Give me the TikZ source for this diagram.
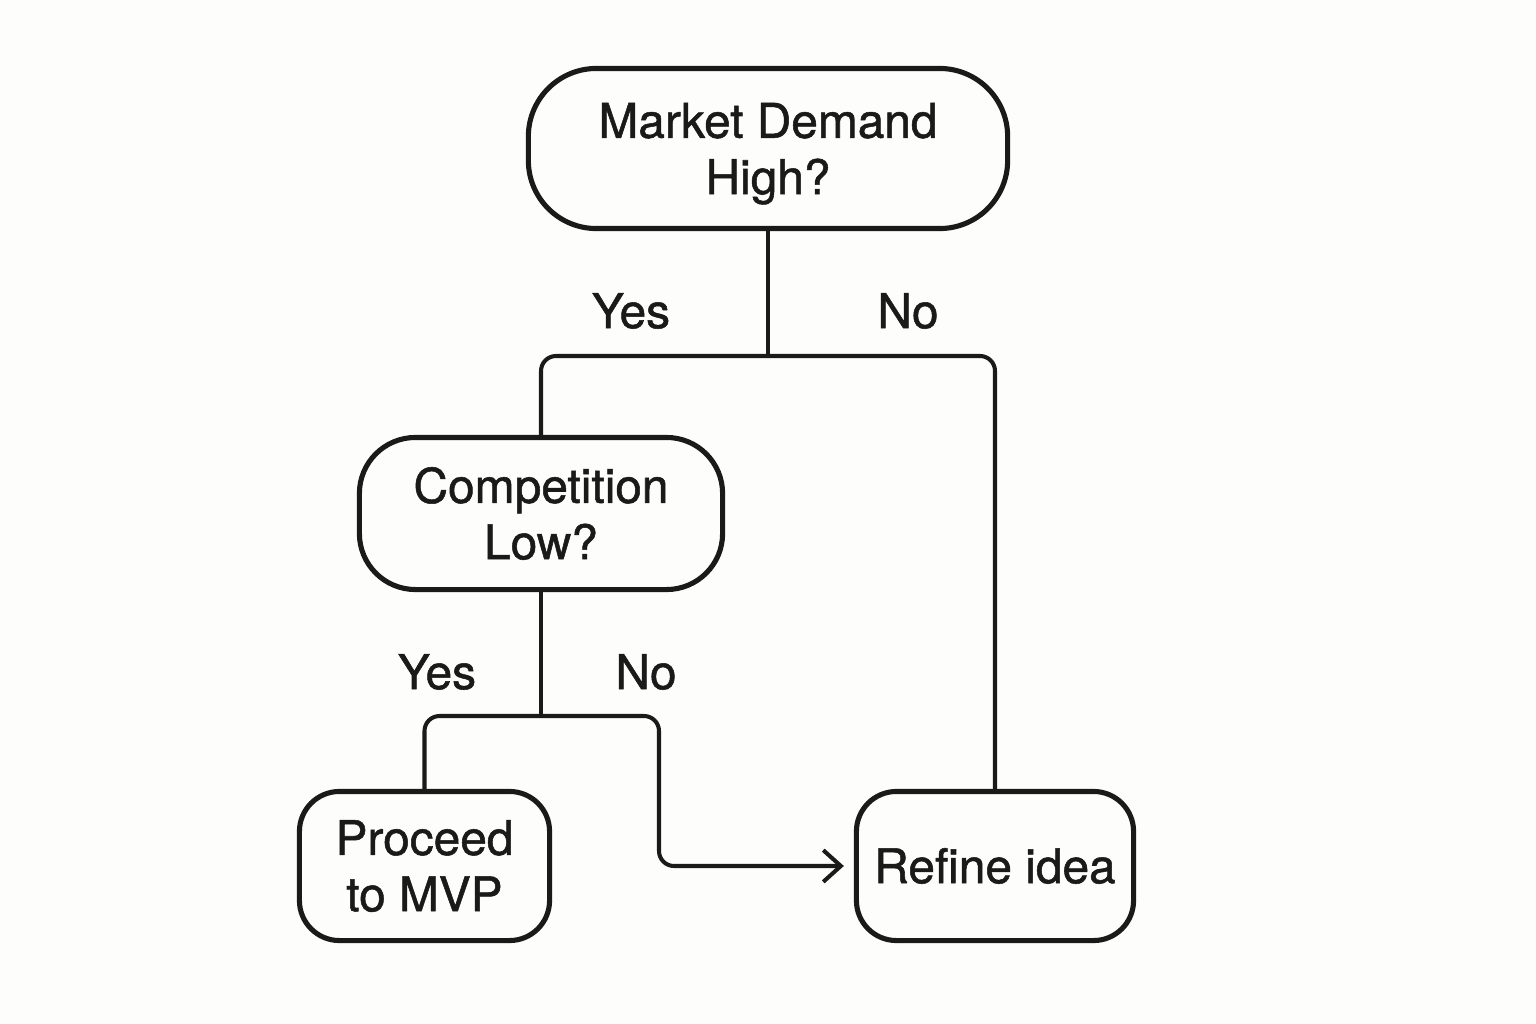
\documentclass[tikz,border=0pt]{standalone}
\usepackage{fontspec}
\setmainfont{TeX Gyre Heros}
\newfontfamily\boxfont{TeX Gyre Heros}[FakeBold=1.1]
\usetikzlibrary{arrows.meta}
\definecolor{paper}{HTML}{FDFDFB}
\definecolor{ink}{HTML}{1A1A1A}
\tikzstyle{decision}=[draw=ink,line width=1.45pt,align=center,inner sep=0pt,
  font=\boxfont\fontsize{13.6}{16}\selectfont,text=ink]
\tikzstyle{link}=[draw=ink,line width=1.15pt,rounded corners=0.15cm]
\tikzstyle{answer}=[font=\boxfont\fontsize{13.6}{16}\selectfont,text=ink,inner sep=0pt]

\begin{document}
\begin{tikzpicture}[x=0.01cm,y=-0.01cm]
      \fill[paper] (0,0) rectangle (1536,1024);
      \useasboundingbox (0,0) rectangle (1536,1024);

      \node[decision,rounded corners=0.68cm,minimum width=4.79cm,minimum height=1.6cm,text depth=0pt] (demand) at (768,148.5) {Market Demand\\High?};
      \node[decision,rounded corners=0.56cm,minimum width=3.63cm,minimum height=1.52cm] (compet) at (541,513.5) {Competition\\Low?};
      \node[decision,rounded corners=0.4cm,minimum width=2.5cm,minimum height=1.49cm] (mvp) at (424.5,866) {Proceed\\to MVP};
      \node[decision,rounded corners=0.4cm,minimum width=2.77cm,minimum height=1.49cm] (refine) at (995,866) {Refine idea};

      \coordinate (split1) at (768,356);
      \coordinate (split2) at (541,716);
      \coordinate (bend) at (659,716);

      \draw[link] (demand) -- (split1);
      \draw[link] (split1) -| (compet);
      \draw[link] (split1) -| (refine);
      \draw[link] (compet) -- (split2);
      \draw[link] (split2) -| (mvp);
      \draw[link,-{Straight Barb[length=5pt,width=9pt]},shorten >=0.1cm] (split2) -- (bend) |- (refine.west);

      \node[answer] (yes1) at (631,311) {Yes};
      \node[answer] (no1) at (908,311) {No};
      \node[answer] (yes2) at (437,672) {Yes};
      \node[answer] (no2) at (646,672) {No};
    \end{tikzpicture}
\end{document}
